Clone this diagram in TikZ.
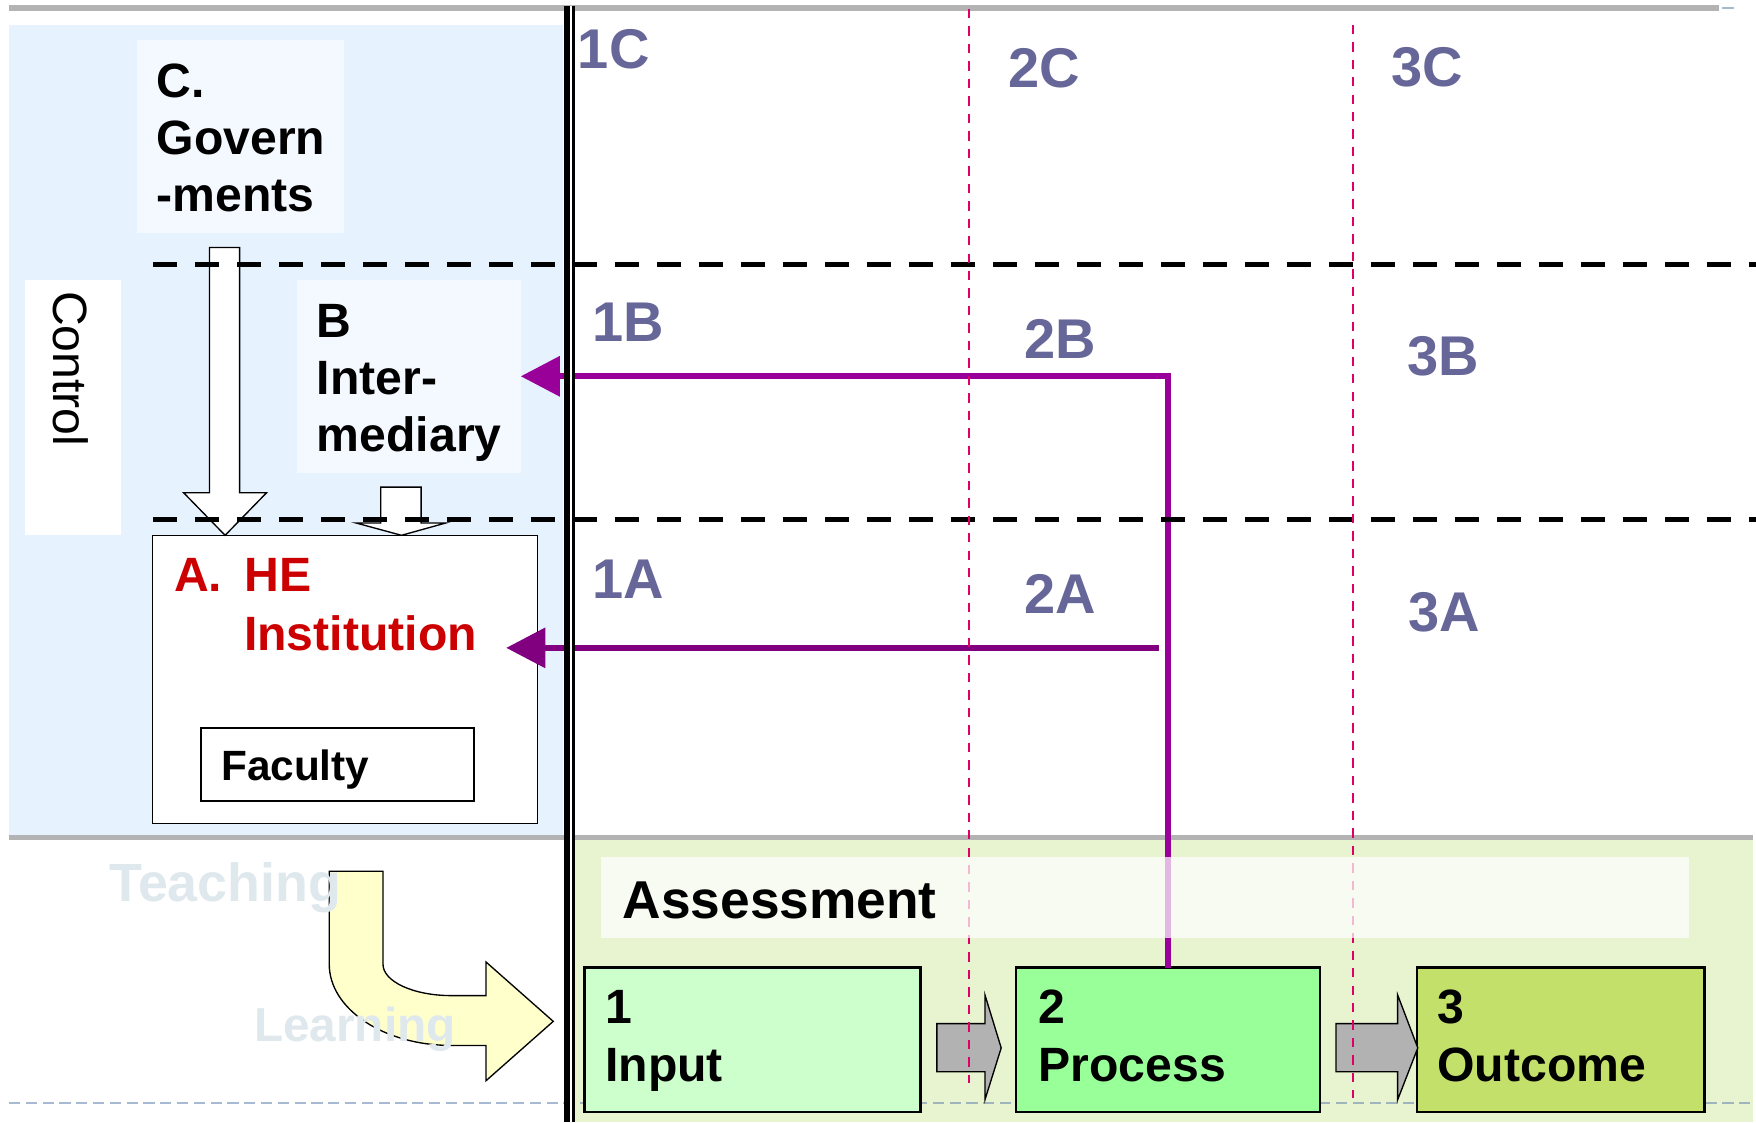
\documentclass[tikz,border=0pt]{standalone}
\usepackage{fontspec}
\setmainfont{Liberation Sans}
\usetikzlibrary{arrows.meta,calc}
\definecolor{bgblue}{RGB}{230,243,255}
\definecolor{boxblue}{RGB}{244,249,255}
\definecolor{bggreen}{RGB}{232,243,207}
\definecolor{rulegray}{RGB}{179,179,179}
\definecolor{labcol}{RGB}{102,102,153}
\definecolor{heRed}{RGB}{204,0,0}
\definecolor{purpB}{RGB}{153,0,153}
\definecolor{purpA}{RGB}{128,0,128}
\definecolor{stageline}{RGB}{221,0,102}
\definecolor{inputfill}{RGB}{204,255,204}
\definecolor{processfill}{RGB}{153,255,153}
\definecolor{outcomefill}{RGB}{195,224,106}
\definecolor{blockgray}{RGB}{178,178,178}
\definecolor{paleyellow}{RGB}{255,255,204}
\definecolor{ghosttext}{RGB}{222,232,237}
\definecolor{steel}{RGB}{110,140,180}
\tikzset{
  txt/.style={anchor=base west, inner sep=0pt, outer sep=0pt},
  boldtext/.style={txt, font=\fontsize{21.5}{25}\selectfont\bfseries},
  gridlabel/.style={txt, font=\fontsize{25}{30}\selectfont\bfseries, text=labcol},
  panel/.style={rectangle, anchor=north west, inner sep=0pt, outer sep=0pt},
  levelline/.style={line width=2.25pt, dash pattern=on 10.5pt off 8.25pt},
  stagesep/.style={stageline, line width=0.95pt, dash pattern=on 4.2pt off 3.6pt},
  feedback/.style={line width=2.75pt, -{Triangle[length=17.5pt,width=17.5pt]}},
  blockarrow/.style={draw=black, line width=0.6pt, fill=blockgray, line join=miter},
  hollowarrow/.style={draw=black, line width=0.6pt, fill=white},
  guide/.style={steel, opacity=0.6, line width=0.75pt, dash pattern=on 5pt off 2.5pt},
  rulestyle/.style={rulegray, line width=2.4pt},
  stagebox/.style={panel, draw=black, line width=1pt, minimum height=64.5pt},
}
\begin{document}
\begin{tikzpicture}[x=0.5pt,y=-0.5pt]
\useasboundingbox (0,0) rectangle (1568,1002);
% backgrounds
\fill[bgblue] (8,22) rectangle (503,747);
\fill[bggreen] (509,750) rectangle (1565,1002);
% guide lines
\draw[guide] (8,7) -- (1548,7);
\draw[guide] (8,985) -- (1568,985);
% rules
\draw[rulestyle] (8,7) -- (1535,7);
\draw[rulestyle] (8,748) -- (1565,748);
% C box
\node[panel, fill=boxblue, minimum width=92.75pt, minimum height=86pt] (govbox) at (122,36) {};
\node[boldtext] (govL1) at (140,86.7) {C.};
\node[boldtext] (govL2) at (140,137.7) {Govern};
\node[boldtext] (govL3) at (140,188.7) {-ments};
% Control
\node[panel, fill=white, minimum width=43pt, minimum height=114pt] (ctrlbox) at (22,250) {};
\node[txt, rotate=-90, font=\fontsize{21.5}{26}\selectfont] (ctrl) at (48,260) {Control};
% B box
\node[panel, fill=boxblue, minimum width=100pt, minimum height=86pt] (interbox) at (265,250) {};
\node[boldtext] (intL1) at (283,301) {B};
\node[boldtext] (intL2) at (283,352.4) {Inter-};
\node[boldtext] (intL3) at (283,403.4) {mediary};
% A box
\node[panel, draw=black, fill=white, line width=0.6pt, minimum width=172pt, minimum height=128.8pt] (heBox) at (136,478) {};
\node[boldtext, text=heRed] (heA) at (155.5,528.6) {A.};
\node[boldtext, text=heRed] (heHE) at (218.5,528.6) {HE};
\node[boldtext, text=heRed] (heInst) at (218,580.4) {Institution};
\node[panel, draw=black, fill=white, line width=0.75pt, minimum width=121.7pt, minimum height=32.5pt] (facbox) at (179.6,650) {};
\node[txt, font=\fontsize{18.9}{22}\selectfont\bfseries] (facText) at (197.5,696.6) {Faculty};
% hollow arrows into A
\draw[hollowarrow] ($(heBox.north west)+(51,-257)$) -- ++(27,0) -- ++(0,219) -- ++(24,0) -- ++(-37,38) -- ++(-37,-38) -- ++(23,0) -- cycle;
\draw[hollowarrow] ($(heBox.north west)+(204,-43)$) -- ++(36,0) -- ++(0,32) -- ++(22,0) -- ++(-39.5,11) -- ++(-40.5,-11) -- ++(22,0) -- cycle;
% stage boxes
\node[stagebox, fill=inputfill, minimum width=150pt] (inBox) at (522,864) {};
\node[stagebox, fill=processfill, minimum width=136pt] (procBox) at (907,864) {};
\node[stagebox, fill=outcomefill, minimum width=128.5pt] (outBox) at (1265,864) {};
\node[boldtext] (inL1) at (540.5,914) {1};
\node[boldtext] (inL2) at (540.5,966) {Input};
\node[boldtext] (prL1) at (927.5,914) {2};
\node[boldtext] (prL2) at (927.5,966) {Process};
\node[boldtext] (ouL1) at (1283.5,914) {3};
\node[boldtext] (ouL2) at (1283.5,966) {Outcome};
% block arrows between stages
\draw[blockarrow] ($(inBox.east)+(14.6,-14.5)$) -- ++(42.9,0) -- ++(0,-25.6) -- ++(14.5,47.3) -- ++(-14.5,46.3) -- ++(0,-25) -- ++(-42.9,0) -- cycle;
\draw[blockarrow] ($(procBox.east)+(14,-14.5)$) -- ++(55,0) -- ++(0,-25.6) -- ++(18,47.3) -- ++(-18,46.3) -- ++(0,-25) -- ++(-55,0) -- cycle;
% feedback arrows
\draw[feedback, purpB] (procBox.north) |- (interbox.east);
\coordinate (branch) at (1035,578.5);
\coordinate (heTip) at (452,578.5);
\draw[feedback, purpA] (branch) -- (heTip);
% level lines
\draw[levelline] (137,236) -- (1568,236);
\draw[levelline] (137,464) -- (1568,464);
% stage separators
\draw[stagesep] (865,8) -- (865,967);
\draw[stagesep] (1208,22) -- (1208,980);
% grid labels
\node[gridlabel] (l1C) at (516,61) {1C};
\node[gridlabel] (l2C) at (900.5,78) {2C};
\node[gridlabel] (l3C) at (1242.5,77) {3C};
\node[gridlabel] (l1B) at (529,305) {1B};
\node[gridlabel] (l2B) at (914.5,320) {2B};
\node[gridlabel] (l3B) at (1256.5,335) {3B};
\node[gridlabel] (l1A) at (529,534) {1A};
\node[gridlabel] (l2A) at (914.5,548) {2A};
\node[gridlabel] (l3A) at (1257.5,564) {3A};
% assessment band
\node[panel, fill=white, fill opacity=0.72, minimum width=485.5pt, minimum height=36.5pt] (assessBand) at (537,765) {};
\node[txt, font=\fontsize{23.8}{28}\selectfont\bfseries] (assessText) at (556,820) {Assessment};
% teaching-learning curved arrow
\draw[draw=black, line width=0.6pt, fill=paleyellow] (294,778) -- (342,778) -- (342,861) .. controls (342,876.5) and (369.3,889) .. (403,889) -- (434,889) -- (434,859) -- (494,912) -- (434,965) -- (434,933.5) -- (403,933.5) .. controls (342.8,933.5) and (294,901) .. (294,861) -- cycle;
\node[txt, font=\fontsize{24}{28}\selectfont\bfseries, text=ghosttext] (teachText) at (97.5,805) {Teaching};
\node[txt, font=\fontsize{21.3}{25}\selectfont\bfseries, text=ghosttext] (learnText) at (227,930) {Learning};
% double vertical divider
\draw[white, line width=2pt] (509,5) -- (509,1002);
\draw[line width=3pt] (506.2,5) -- (506.2,1002);
\draw[line width=1pt] (512,5) -- (512,1002);
\end{tikzpicture}
\end{document}
